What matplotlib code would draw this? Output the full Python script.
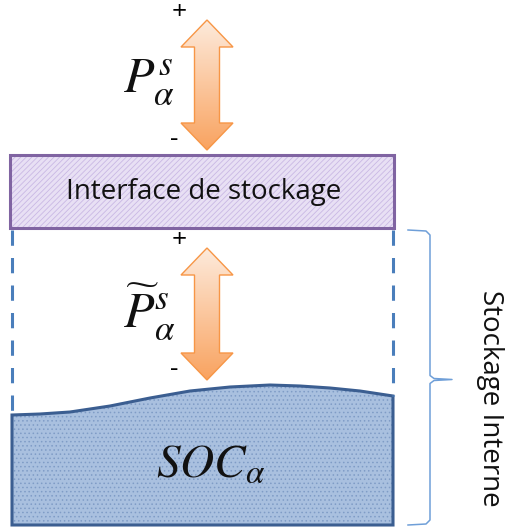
import numpy as np
import matplotlib
matplotlib.use("Agg")
import matplotlib.pyplot as plt
from matplotlib.patches import Polygon, Rectangle
from matplotlib.colors import LinearSegmentedColormap

plt.rcParams["mathtext.fontset"] = "stix"
plt.rcParams["hatch.linewidth"] = 0.6

# ======================================
# DIAGRAM DATA (pixel coordinates)
# ======================================
box_x = [10, 394]
box_y = [155, 228]
box_label = "Interface de stockage"

wave_x = [12, 40, 70, 110, 150, 190, 230, 270, 300, 330, 360, 393]
wave_y = [415, 414, 412, 406, 398, 391, 387, 385, 386, 388, 391, 396]
tank_bottom = 525
tank_label = r"$SOC_{\alpha}$"

arrow_centers = [207, 207]
arrow_tops = [20, 248]
arrow_bottoms = [150, 380]
arrow_labels = [r"$P_{\alpha}^{s}$", r"$\widetilde{P}_{\alpha}^{s}$"]

brace_y = [230, 525]
brace_label = "Stockage Interne"

fig = plt.figure(figsize=(5.06, 5.27), dpi=100)
ax = fig.add_axes([0, 0, 1, 1])
ax.set_xlim(0, 506)
ax.set_ylim(527, 0)
ax.axis("off")

# ======================================
# INTERFACE BOX
# ======================================
ax.add_patch(Rectangle((box_x[0], box_y[0]), box_x[1] - box_x[0], box_y[1] - box_y[0],
                       facecolor="#e8e0f4", edgecolor="#c9b8e4", hatch="//////", lw=0))
ax.add_patch(Rectangle((box_x[0], box_y[0]), box_x[1] - box_x[0], box_y[1] - box_y[0],
                       facecolor="none", edgecolor="#8064a2", lw=2.2))
ax.text(sum(box_x) / 2 + 2, sum(box_y) / 2 + 1, box_label, ha="center", va="center",
        fontsize=20, family="Open Sans", color="#111111")

# ======================================
# TANK (SOC)
# ======================================
tank_pts = list(zip(wave_x, wave_y)) + [(wave_x[-1], tank_bottom), (wave_x[0], tank_bottom)]
ax.add_patch(Polygon(tank_pts, closed=True, facecolor="#a9c0df", edgecolor="#7f9cc6",
                     hatch="....", lw=0))
ax.add_patch(Polygon(tank_pts, closed=True, facecolor="none", edgecolor="#3b5e91", lw=2.2))
ax.text(211, 464, tank_label, ha="center", va="center", fontsize=34, color="#111111")

# dashed walls
ax.plot([12, 12], [230, wave_y[0]], color="#4a7ebb", lw=2.2, dashes=(5, 4))
ax.plot([393, 393], [230, wave_y[-1]], color="#4a7ebb", lw=2.2, dashes=(5, 4))

# ======================================
# DOUBLE ARROWS
# ======================================
cmap = LinearSegmentedColormap.from_list("peach", ["#fdeadb", "#f9a360"])
head_hw, shaft_hw, head_len = 26, 12.5, 27
for cx, top, bot, lab in zip(arrow_centers, arrow_tops, arrow_bottoms, arrow_labels):
    pts = [(cx, top), (cx + head_hw, top + head_len), (cx + shaft_hw, top + head_len),
           (cx + shaft_hw, bot - head_len), (cx + head_hw, bot - head_len), (cx, bot),
           (cx - head_hw, bot - head_len), (cx - shaft_hw, bot - head_len),
           (cx - shaft_hw, top + head_len), (cx - head_hw, top + head_len)]
    poly = Polygon(pts, closed=True, facecolor="none", edgecolor="#f79646", lw=1.0, zorder=3)
    ax.add_patch(poly)
    grad = np.linspace(0, 1, 100).reshape(-1, 1)
    im = ax.imshow(grad, cmap=cmap, aspect="auto", zorder=2,
                   extent=[cx - head_hw, cx + head_hw, bot, top])
    im.set_clip_path(poly)
    ax.text(cx - 28, top - 7, "+", ha="center", va="center", fontsize=19, family="Open Sans")
    ax.text(cx - 33, bot - 10, "-", ha="center", va="center", fontsize=19, family="Open Sans")
    ax.text(cx - 58, (top + bot) / 2 - 2, lab, ha="center", va="center", fontsize=36,
            color="#111111")

ax.set_xlim(0, 506)
ax.set_ylim(527, 0)

# ======================================
# BRACE
# ======================================
mid = (brace_y[0] + brace_y[1]) / 2 + 2
bx = [408, 426, 430, 430, 434, 452, 434, 430, 430, 426, 408]
by = [brace_y[0], brace_y[0] + 1, brace_y[0] + 5, mid - 4, mid - 1, mid,
      mid + 1, mid + 4, brace_y[1] - 5, brace_y[1] - 1, brace_y[1]]
ax.plot(bx, by, color="#6f9fd8", lw=1.1)
ax.text(490, 398, brace_label, ha="center", va="center", rotation=-90,
        fontsize=20, family="Open Sans", color="#111111")

fig.savefig("out.png", dpi=100)
